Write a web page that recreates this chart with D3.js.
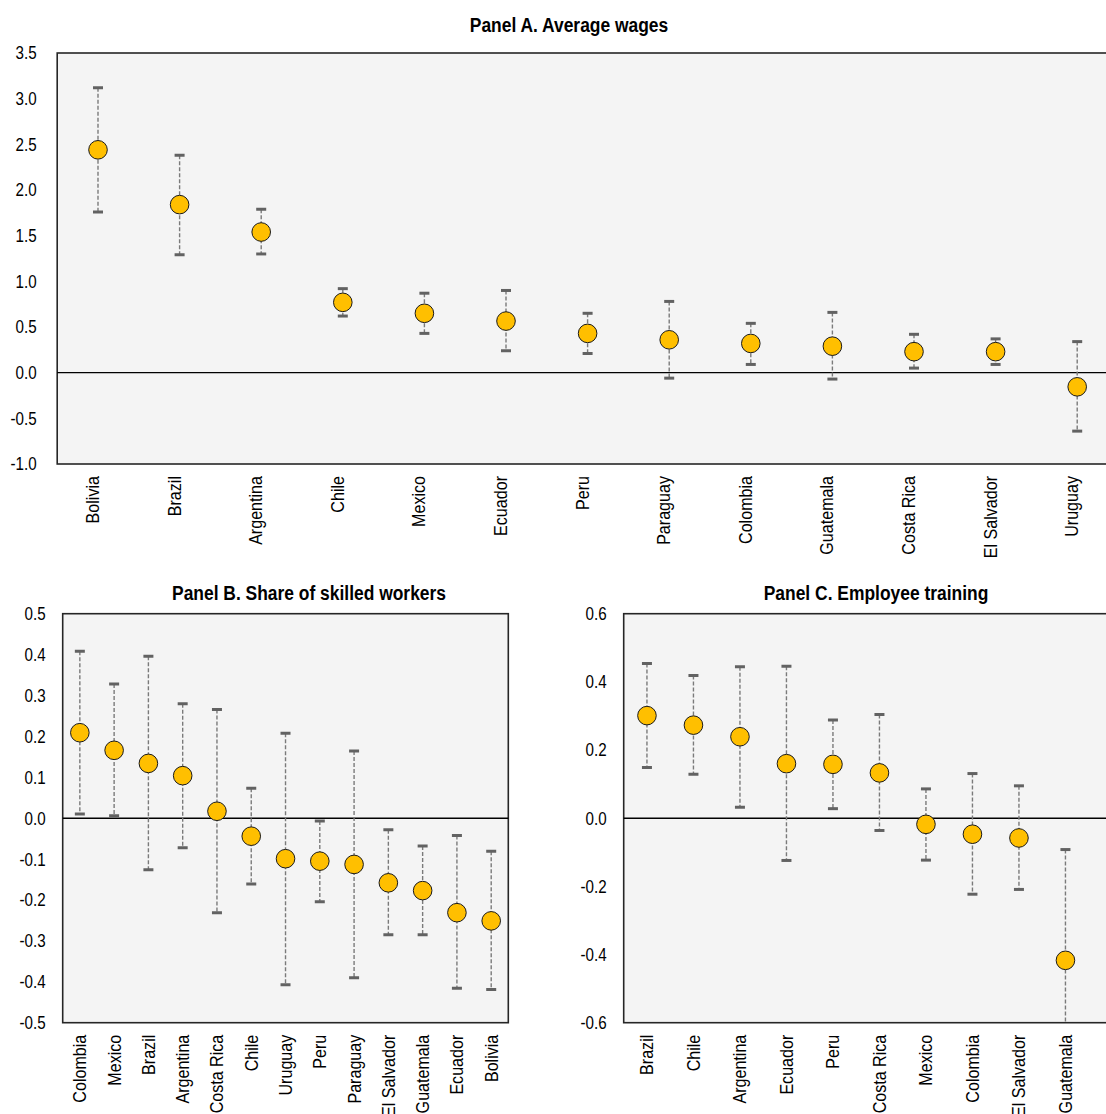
<!DOCTYPE html>
<html>
<head>
<meta charset="utf-8">
<script src="https://cdn.jsdelivr.net/npm/d3@7"></script>
<style>
    body { margin: 0; background: #fff; }
    svg text { font-family: "Liberation Sans Narrow", "Arial Narrow", "Liberation Sans", Arial, sans-serif; fill: #000; }
</style>
</head>
<body>
<div id="chart-area"></div>
<script>
// Panel A. Average wages
const wageCountries = ["Bolivia", "Brazil", "Argentina", "Chile", "Mexico", "Ecuador", "Peru",
    "Paraguay", "Colombia", "Guatemala", "Costa Rica", "El Salvador", "Uruguay"];
const wageValues = [2.44, 1.84, 1.54, 0.77, 0.65, 0.565, 0.43, 0.36, 0.32, 0.29, 0.23, 0.23, -0.155];
const wageUpper = [3.12, 2.38, 1.79, 0.92, 0.87, 0.90, 0.65, 0.78, 0.54, 0.66, 0.42, 0.37, 0.34];
const wageLower = [1.76, 1.29, 1.30, 0.62, 0.43, 0.24, 0.21, -0.06, 0.09, -0.07, 0.05, 0.09, -0.64];
const wageTicks = [-1.0, -0.5, 0.0, 0.5, 1.0, 1.5, 2.0, 2.5, 3.0, 3.5];

// Panel B. Share of skilled workers
const skillCountries = ["Colombia", "Mexico", "Brazil", "Argentina", "Costa Rica", "Chile", "Uruguay",
    "Peru", "Paraguay", "El Salvador", "Guatemala", "Ecuador", "Bolivia"];
const skillValues = [0.209, 0.166, 0.134, 0.104, 0.017, -0.044, -0.099, -0.105, -0.113, -0.158, -0.177, -0.231, -0.251];
const skillUpper = [0.408, 0.328, 0.396, 0.280, 0.266, 0.073, 0.208, -0.007, 0.164, -0.028, -0.068, -0.042, -0.081];
const skillLower = [0.010, 0.006, -0.126, -0.072, -0.231, -0.161, -0.407, -0.204, -0.390, -0.285, -0.285, -0.416, -0.419];
const skillTicks = [-0.5, -0.4, -0.3, -0.2, -0.1, 0.0, 0.1, 0.2, 0.3, 0.4, 0.5];

// Panel C. Employee training
const trainCountries = ["Brazil", "Chile", "Argentina", "Ecuador", "Peru", "Costa Rica", "Mexico",
    "Colombia", "El Salvador", "Guatemala"];
const trainValues = [0.301, 0.273, 0.239, 0.160, 0.158, 0.133, -0.018, -0.047, -0.058, -0.417];
const trainUpper = [0.454, 0.419, 0.444, 0.446, 0.288, 0.304, 0.086, 0.131, 0.095, -0.092];
const trainLower = [0.149, 0.129, 0.032, -0.124, 0.028, -0.036, -0.123, -0.223, -0.209, -0.742];
const trainTicks = [-0.6, -0.4, -0.2, 0.0, 0.2, 0.4, 0.6];

const fmt = d3.formatLocale({decimal: ".", thousands: ",", grouping: [3], currency: ["", ""], minus: "-"}).format(".1f");

// no narrow font installed, so squeeze the regular one horizontally
const narrowTicks = 0.82;
const narrowLabels = 0.87;

const drawPanel = (svg, p) => {
    const rows = p.countries.map((name, i) => ({
        name: name, value: p.values[i], hi: p.upper[i], lo: p.lower[i]
    }));

    const x = d3.scaleBand()
        .domain(p.countries)
        .range([p.left, p.left + p.step * p.countries.length])
        .padding(0);
    const y = d3.scaleLinear()
        .domain([p.ticks[0], p.ticks[p.ticks.length - 1]])
        .range([p.bottom, p.top]);
    const cx = d => x(d) + x.bandwidth() / 2;

    const g = svg.append("g");
    const clipId = "clip-" + p.id;
    svg.append("clipPath").attr("id", clipId)
        .append("rect")
        .attr("x", p.left).attr("y", p.top)
        .attr("width", p.right - p.left).attr("height", p.bottom - p.top);

    g.append("rect")
        .attr("x", p.left).attr("y", p.top)
        .attr("width", p.right - p.left).attr("height", p.bottom - p.top)
        .attr("fill", "#f4f4f4")
        .attr("stroke", "#262626")
        .attr("stroke-width", 1.6);

    g.append("line")
        .attr("x1", p.left).attr("x2", p.right)
        .attr("y1", y(0)).attr("y2", y(0))
        .attr("stroke", "#000")
        .attr("stroke-width", 1.4);

    g.append("text")
        .text(p.title)
        .attr("transform", `translate(${p.titleX}, ${p.titleY}) scale(0.83, 1)`)
        .attr("text-anchor", "middle")
        .attr("font-weight", "bold")
        .attr("font-size", 21);

    const yAxis = d3.axisLeft(y).tickValues(p.ticks).tickFormat(fmt).tickSize(0).tickPadding(0);
    g.append("g")
        .attr("class", "y-axis")
        .attr("transform", `translate(${p.left - p.labelGap}, 0)`)
        .call(yAxis)
        .call(a => a.select(".domain").remove());
    g.selectAll(".y-axis text")
        .attr("font-size", 18.5)
        .attr("x", 0)
        .attr("transform", `scale(${narrowTicks}, 1)`);

    const xAxis = d3.axisBottom(x).tickSize(0).tickPadding(0);
    const xg = g.append("g")
        .attr("class", "x-axis-" + p.id)
        .attr("transform", `translate(0, ${p.bottom})`)
        .call(xAxis)
        .call(a => a.select(".domain").remove());
    xg.selectAll("text")
        .attr("font-size", 18.5)
        .attr("transform", `rotate(-90) scale(${narrowLabels}, 1)`)
        .attr("text-anchor", "end")
        .attr("x", -12 / narrowLabels)
        .attr("y", 0)
        .attr("dy", p.labelDy);

    const marks = g.append("g").attr("clip-path", `url(#${clipId})`);

    marks.selectAll(".whisker").data(rows).enter()
        .append("line")
        .attr("class", "whisker")
        .attr("x1", d => cx(d.name)).attr("x2", d => cx(d.name))
        .attr("y1", d => y(d.hi)).attr("y2", d => y(d.lo))
        .attr("stroke", "#7a7a7a")
        .attr("stroke-width", 1.4)
        .attr("stroke-dasharray", "4,2");

    const caps = rows.flatMap(d => [{name: d.name, v: d.hi}, {name: d.name, v: d.lo}]);
    marks.selectAll(".cap").data(caps).enter()
        .append("line")
        .attr("class", "cap")
        .attr("x1", d => cx(d.name) - 5).attr("x2", d => cx(d.name) + 5)
        .attr("y1", d => y(d.v)).attr("y2", d => y(d.v))
        .attr("stroke", "#626262")
        .attr("stroke-width", 3);

    marks.selectAll(".dot").data(rows).enter()
        .append("circle")
        .attr("class", "dot")
        .attr("cx", d => cx(d.name))
        .attr("cy", d => y(d.value))
        .attr("r", 9.3)
        .attr("fill", "#ffbf00")
        .attr("stroke", "#1a1a1a")
        .attr("stroke-width", 1);
};

const main = () => {
    const svg = d3.select("#chart-area")
        .append("svg")
        .attr("width", 1106)
        .attr("height", 1114);

    drawPanel(svg, {
        id: "a", title: "Panel A. Average wages", titleX: 569, titleY: 32,
        countries: wageCountries, values: wageValues, upper: wageUpper, lower: wageLower, ticks: wageTicks,
        left: 57.2, step: 81.6, right: 1118, top: 53, bottom: 464, labelGap: 20.5, labelDy: "0.05em"
    });
    drawPanel(svg, {
        id: "b", title: "Panel B. Share of skilled workers", titleX: 309, titleY: 600,
        countries: skillCountries, values: skillValues, upper: skillUpper, lower: skillLower, ticks: skillTicks,
        left: 62.7, step: 34.28, right: 508.3, top: 613.7, bottom: 1022.7, labelGap: 17, labelDy: "0.35em"
    });
    drawPanel(svg, {
        id: "c", title: "Panel C. Employee training", titleX: 876, titleY: 600,
        countries: trainCountries, values: trainValues, upper: trainUpper, lower: trainLower, ticks: trainTicks,
        left: 623.7, step: 46.5, right: 1135, top: 613.7, bottom: 1022.7, labelGap: 17, labelDy: "0.35em"
    });
};

window.onload = main;
</script>
</body>
</html>
